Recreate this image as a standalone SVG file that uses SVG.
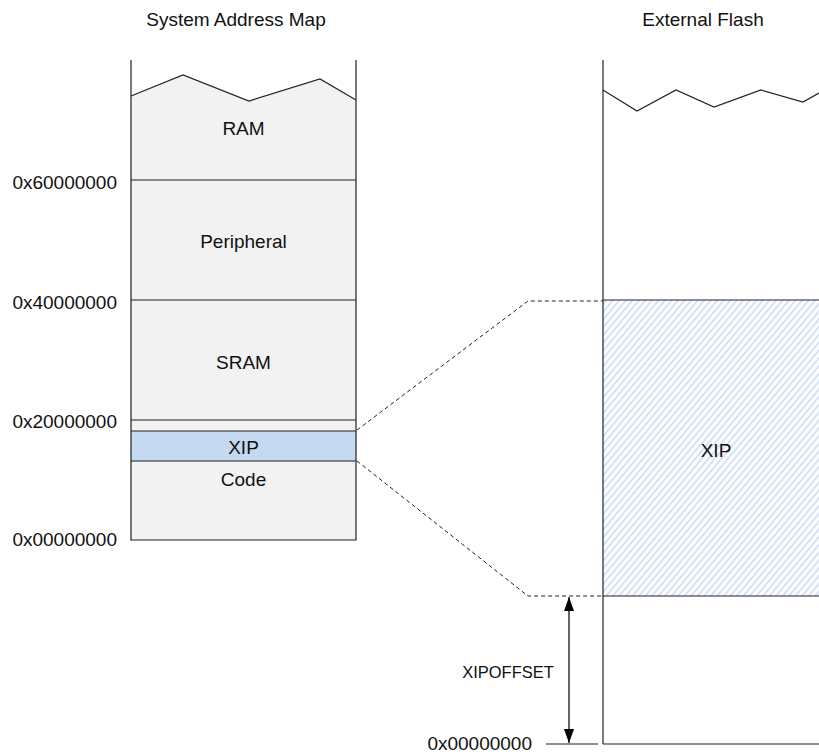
<svg xmlns="http://www.w3.org/2000/svg" width="819" height="754" viewBox="0 0 819 754">
<defs>
<style>
text{font-family:"Liberation Sans",Arial,sans-serif;font-size:19px;fill:#111}
.c{text-anchor:middle}
.r{text-anchor:end}
.ln{stroke:#222;stroke-width:1.2;fill:none}
.dash{stroke:#222;stroke-width:1;fill:none;stroke-dasharray:4 3}
</style>
<pattern id="hatch" patternUnits="userSpaceOnUse" width="5" height="5" patternTransform="rotate(40)">
<line x1="2.5" y1="0" x2="2.5" y2="5" stroke="#c6d9f0" stroke-width="1.6"/>
</pattern>
<marker id="ah" viewBox="0 0 14 10" refX="14" refY="5" markerWidth="14" markerHeight="10" markerUnits="userSpaceOnUse" orient="auto-start-reverse">
<path d="M0,0 L14,5 L0,10 z" fill="#000"/>
</marker>
</defs>
<rect width="819" height="754" fill="#fff"/>

<g id="titles">
<text class="c" x="236" y="26">System Address Map</text>
<text class="c" x="703" y="26">External Flash</text>
</g>

<g id="system-map">
<path d="M131,96 L183,75 L249,101 L320,79 L356,100 L356,540 L131,540 Z" fill="#f2f2f2"/>
<rect x="131" y="431" width="225" height="30" fill="#c5d9f1"/>
<path class="ln" d="M131,96 L183,75 L249,101 L320,79 L356,100"/>
<path class="ln" d="M131,60 L131,540 L356,540 L356,60"/>
<line class="ln" x1="131" y1="180" x2="356" y2="180"/>
<line class="ln" x1="131" y1="300" x2="356" y2="300"/>
<line class="ln" x1="131" y1="420" x2="356" y2="420"/>
<line class="ln" x1="131" y1="431" x2="356" y2="431"/>
<line class="ln" x1="131" y1="461" x2="356" y2="461"/>
</g>

<g id="ram"><text class="c" x="243.5" y="135">RAM</text></g>
<g id="peripheral"><text class="c" x="243.5" y="248">Peripheral</text></g>
<g id="sram"><text class="c" x="243.5" y="369">SRAM</text></g>
<g id="xip-map"><text class="c" x="243.5" y="454">XIP</text></g>
<g id="code"><text class="c" x="243.5" y="486">Code</text></g>

<g id="addresses">
<text class="r" x="117" y="189">0x60000000</text>
<text class="r" x="117" y="309">0x40000000</text>
<text class="r" x="117" y="428">0x20000000</text>
<text class="r" x="117" y="546">0x00000000</text>
<text class="r" x="532" y="750">0x00000000</text>
</g>

<g id="external-flash">
<rect x="603" y="300" width="216" height="296" fill="url(#hatch)"/>
<path class="ln" d="M603,90 L637,111 L676,90 L714,107 L761,90 L803,102 L819,93"/>
<line class="ln" x1="603" y1="60" x2="603" y2="744"/>
<line class="ln" x1="603" y1="300" x2="819" y2="300"/>
<line class="ln" x1="603" y1="596" x2="819" y2="596"/>
<line class="ln" x1="603" y1="744" x2="819" y2="744"/>
<line class="ln" x1="546" y1="744" x2="598" y2="744"/>
</g>
<g id="xip-flash"><text class="c" x="716" y="457">XIP</text></g>

<g id="connectors">
<path class="dash" d="M357,430 L528,301 L603,301"/>
<path class="dash" d="M357,461 L528,596 L603,596"/>
<line x1="569" y1="597" x2="569" y2="743" stroke="#000" stroke-width="1.2" marker-start="url(#ah)" marker-end="url(#ah)"/>
</g>
<g id="xipoffset"><text class="c" x="508" y="678" style="font-size:16.5px">XIPOFFSET</text></g>
</svg>
